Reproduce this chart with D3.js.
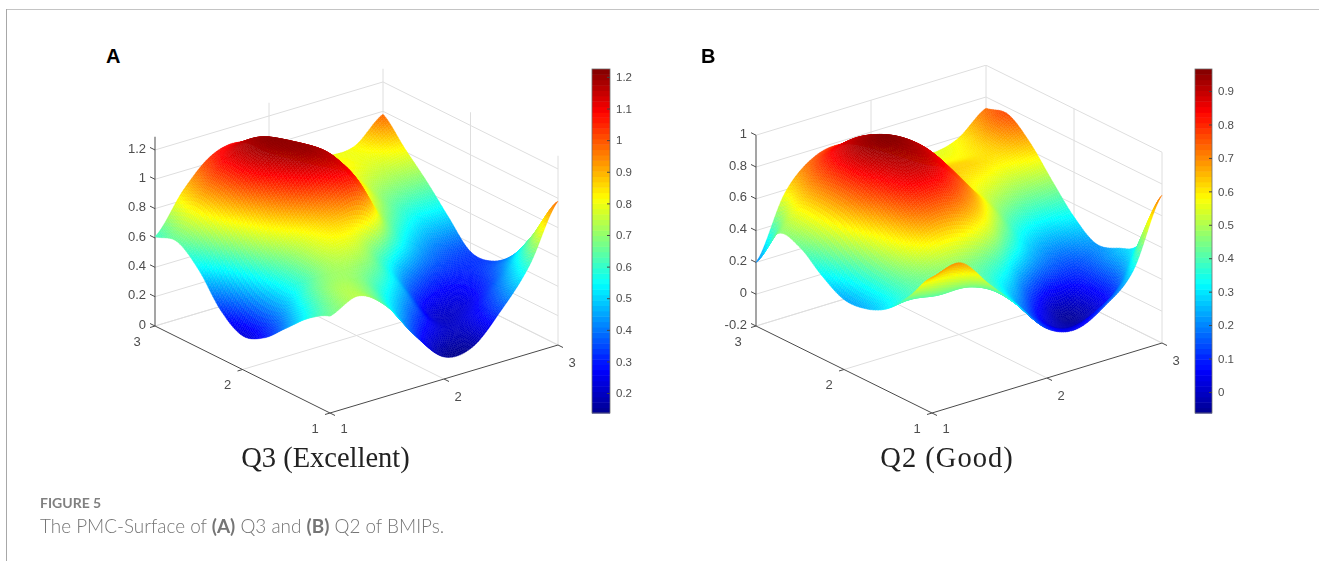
<!DOCTYPE html>
<html>
<head>
<meta charset="utf-8">
<script src="https://cdn.jsdelivr.net/npm/d3@7"></script>
<style>
  html, body { margin: 0; padding: 0; background: #fff; }
  svg { display: block; }
  text { font-family: "Liberation Sans", Arial, sans-serif; }
</style>
</head>
<body>
<svg id="chart" width="1319" height="561">
  <defs><filter id="soft" x="0" y="0" width="100%" height="100%"><feGaussianBlur stdDeviation="0.4"/></filter></defs>
</svg>
<script>
// surface heights, rows are y = 1..3, columns x = 1..3 (step 0.25)
const gridSteps = [1, 1.25, 1.5, 1.75, 2, 2.25, 2.5, 2.75, 3];
const q3Surface = [
  [0.66, 0.74, 0.61, 0.35, 0.15, 0.16, 0.35, 0.60, 0.98],
  [0.57, 0.72, 0.68, 0.50, 0.30, 0.20, 0.28, 0.46, 0.70],
  [0.43, 0.65, 0.72, 0.66, 0.48, 0.24, 0.22, 0.32, 0.47],
  [0.29, 0.55, 0.75, 0.80, 0.65, 0.42, 0.30, 0.30, 0.35],
  [0.23, 0.58, 0.80, 0.96, 1.03, 0.70, 0.48, 0.37, 0.34],
  [0.33, 0.70, 0.98, 1.16, 1.14, 0.85, 0.65, 0.52, 0.50],
  [0.53, 0.85, 1.12, 1.21, 1.14, 0.95, 0.75, 0.68, 0.67],
  [0.65, 0.92, 1.13, 1.19, 1.06, 0.88, 0.82, 0.78, 0.82],
  [0.61, 0.87, 1.05, 1.08, 0.95, 0.85, 0.81, 0.82, 0.98]
];
const q2Surface = [
  [0.65, 0.69, 0.50, 0.31, 0.11, 0.05, 0.14, 0.31, 0.73],
  [0.47, 0.42, 0.42, 0.36, 0.17, 0.00, -0.02, 0.10, 0.36],
  [0.32, 0.42, 0.48, 0.45, 0.34, 0.12, -0.03, 0.08, 0.26],
  [0.25, 0.48, 0.68, 0.70, 0.60, 0.38, 0.20, 0.14, 0.22],
  [0.24, 0.55, 0.80, 0.86, 0.76, 0.56, 0.36, 0.28, 0.32],
  [0.32, 0.65, 0.86, 0.93, 0.85, 0.62, 0.52, 0.46, 0.48],
  [0.43, 0.68, 0.90, 0.96, 0.87, 0.66, 0.62, 0.60, 0.65],
  [0.45, 0.66, 0.85, 0.90, 0.80, 0.62, 0.58, 0.62, 0.76],
  [0.20, 0.58, 0.75, 0.78, 0.70, 0.60, 0.55, 0.59, 0.73]
];
const xyTicks = [1, 2, 3];
const q3ZTicks = [0, 0.2, 0.4, 0.6, 0.8, 1, 1.2];
const q2ZTicks = [-0.2, 0, 0.2, 0.4, 0.6, 0.8, 1];
const q3BarTicks = [0.2, 0.3, 0.4, 0.5, 0.6, 0.7, 0.8, 0.9, 1, 1.1, 1.2];
const q2BarTicks = [0, 0.1, 0.2, 0.3, 0.4, 0.5, 0.6, 0.7, 0.8, 0.9];
const jetStops = [0, 1/8, 3/8, 5/8, 7/8, 1];
const jetColors = ["#00008f", "#0000ff", "#00ffff", "#ffff00", "#ff0000", "#800000"];

const svg = d3.select('#chart');

// page frame
svg.append('line').attr('x1', 7).attr('y1', 9.5).attr('x2', 1319).attr('y2', 9.5).attr('stroke', '#c4c4c4');
svg.append('line').attr('x1', 6.5).attr('y1', 9).attr('x2', 6.5).attr('y2', 561).attr('stroke', '#a8a8a8');

// Catmull-Rom so the drawn mesh is smooth between the read values
function cr(p0, p1, p2, p3, t) {
    return 0.5 * (2 * p1 + (p2 - p0) * t + (2 * p0 - 5 * p1 + 4 * p2 - p3) * t * t + (3 * p1 - p0 - 3 * p2 + p3) * t * t * t);
}

function sampleSurface(rows, sub) {
    const n = rows.length;
    const at = (r, c) => rows[Math.max(0, Math.min(n - 1, r))][Math.max(0, Math.min(n - 1, c))];
    const m = (n - 1) * sub + 1;
    const out = [];
    for (let i = 0; i < m; i++) {
        const r = Math.min(Math.floor(i / sub), n - 2), tr = i / sub - r;
        const line = [];
        for (let j = 0; j < m; j++) {
            const c = Math.min(Math.floor(j / sub), n - 2), tc = j / sub - c;
            const col = [-1, 0, 1, 2].map(k => cr(at(r + k, c - 1), at(r + k, c), at(r + k, c + 1), at(r + k, c + 2), tc));
            line.push(cr(col[0], col[1], col[2], col[3], tr));
        }
        out.push(line);
    }
    return out;
}

const fmt = v => d3.format('~g')(v).replace('\u2212', '-');

function drawPanel(cfg) {
    const g = svg.append('g').attr('filter', 'url(#soft)');
    const { front, left, right, zPx, zFloor, zTop } = cfg;

    const xPx = d3.scaleLinear().domain([1, 3]).range([0, right[0] - front[0]]);
    const yPx = d3.scaleLinear().domain([1, 3]).range([0, left[0] - front[0]]);
    const xPy = d3.scaleLinear().domain([1, 3]).range([0, right[1] - front[1]]);
    const yPy = d3.scaleLinear().domain([1, 3]).range([0, left[1] - front[1]]);
    const zPy = d3.scaleLinear().domain([zFloor, zFloor + 1]).range([0, -zPx]);
    const project = (x, y, z) => [front[0] + xPx(x) + yPx(y), front[1] + xPy(x) + yPy(y) + zPy(z)];

    const color = d3.scaleLinear().domain(jetStops.map(t => cfg.cMin + t * (cfg.cMax - cfg.cMin))).range(jetColors).clamp(true);

    const seg = (a, b, stroke, w) => g.append('line')
        .attr('x1', a[0]).attr('y1', a[1]).attr('x2', b[0]).attr('y2', b[1])
        .attr('stroke', stroke).attr('stroke-width', w);

    // back walls and floor grid
    const gridCol = '#dedede';
    cfg.zTicks.forEach(z => {
        seg(project(1, 3, z), project(3, 3, z), gridCol, 1);
        seg(project(3, 3, z), project(3, 1, z), gridCol, 1);
    });
    [2, 3].forEach(v => {
        seg(project(v, 3, zFloor), project(v, 3, zTop), gridCol, 1);
        seg(project(3, v - 1, zFloor), project(3, v - 1, zTop), gridCol, 1);
    });
    seg(project(2, 1, zFloor), project(2, 3, zFloor), gridCol, 1);
    seg(project(1, 2, zFloor), project(3, 2, zFloor), gridCol, 1);
    seg(project(1, 3, zFloor), project(3, 3, zFloor), gridCol, 1);
    seg(project(3, 1, zFloor), project(3, 3, zFloor), gridCol, 1);

    // axes
    const axisCol = '#4a4a4a';
    seg(project(1, 3, zFloor), project(1, 3, zTop), axisCol, 1);
    seg(project(1, 3, zFloor), project(1, 1, zFloor), axisCol, 1);
    seg(project(1, 1, zFloor), project(3, 1, zFloor), axisCol, 1);

    const tickCol = '#4d4d4d';
    const label = (x, y, txt, anchor) => g.append('text')
        .attr('x', x).attr('y', y).attr('text-anchor', anchor || 'middle').attr('dy', '0.36em')
        .attr('font-size', 13).attr('fill', tickCol).text(txt);

    cfg.zTicks.forEach(z => {
        const p = project(1, 3, z);
        seg(p, [p[0] - 5, p[1] - 2.5], axisCol, 1);
        label(p[0] - 9, p[1] - 2, fmt(z), 'end');
    });
    xyTicks.forEach(v => {
        const py = project(1, v, zFloor);
        seg(py, [py[0] - 5, py[1] + 1.5], axisCol, 1);
        label(py[0] - 15 - (v === 3 ? 3 : 0), py[1] + 15, v);
        const px = project(v, 1, zFloor);
        seg(px, [px[0] + 5, px[1] + 2.5], axisCol, 1);
        label(px[0] + 14, px[1] + (v === 1 ? 15 : 17), v);
    });

    // surface, painted from the far corner (3,3) to the near corner (1,1)
    const sub = 14;
    const mesh = sampleSurface(cfg.values, sub);
    const step = 2 / (mesh.length - 1);
    const quads = [];
    for (let i = mesh.length - 2; i >= 0; i--) {
        for (let j = mesh.length - 2; j >= 0; j--) {
            const y0 = 1 + i * step, y1 = y0 + step, x0 = 1 + j * step, x1 = x0 + step;
            quads.push({
                pts: [project(x0, y0, mesh[i][j]), project(x1, y0, mesh[i][j + 1]), project(x1, y1, mesh[i + 1][j + 1]), project(x0, y1, mesh[i + 1][j])],
                z: (mesh[i][j] + mesh[i][j + 1] + mesh[i + 1][j + 1] + mesh[i + 1][j]) / 4
            });
        }
    }
    g.append('g').selectAll('polygon').data(quads).enter().append('polygon')
        .attr('points', d => d.pts.map(p => p[0].toFixed(2) + ',' + p[1].toFixed(2)).join(' '))
        .attr('fill', d => color(d.z))
        .attr('stroke', d => color(d.z))
        .attr('stroke-width', 0.4);

    // colour bar
    const barY = d3.scaleLinear().domain([cfg.cMin, cfg.cMax]).range([cfg.barBottom, cfg.barTop]);
    const bands = d3.range(64);
    g.append('g').selectAll('rect').data(bands).enter().append('rect')
        .attr('x', cfg.barX)
        .attr('width', cfg.barW)
        .attr('y', i => barY(cfg.cMin + (i + 1) / 64 * (cfg.cMax - cfg.cMin)))
        .attr('height', i => barY(cfg.cMin + i / 64 * (cfg.cMax - cfg.cMin)) - barY(cfg.cMin + (i + 1) / 64 * (cfg.cMax - cfg.cMin)) + 0.5)
        .attr('fill', i => color(cfg.cMin + (i + 0.5) / 64 * (cfg.cMax - cfg.cMin)));
    g.append('rect').attr('x', cfg.barX).attr('y', cfg.barTop).attr('width', cfg.barW).attr('height', cfg.barBottom - cfg.barTop)
        .attr('fill', 'none').attr('stroke', '#6e6e6e').attr('stroke-width', 0.8);
    const barAxis = g.append('g').attr('transform', `translate(${cfg.barX + cfg.barW},0)`)
        .call(d3.axisRight(barY).tickValues(cfg.barTicks).tickFormat(fmt).tickSize(-3).tickPadding(6));
    barAxis.select('.domain').remove();
    barAxis.selectAll('line').attr('stroke', '#444');
    barAxis.selectAll('text').attr('font-size', 11.5).attr('fill', tickCol).attr('font-family', '"Liberation Sans", Arial, sans-serif');

    // panel title
    g.append('text').attr('x', cfg.titleX).attr('y', 467).attr('text-anchor', 'middle')
        .style('font-family', '"Liberation Serif", serif').style('letter-spacing', cfg.titleSpacing + 'px')
        .attr('font-size', 28.5).attr('fill', '#222').text(cfg.title);

    svg.append('text').attr('x', cfg.letterX).attr('y', 63).attr('font-size', 20).attr('font-weight', 700).attr('fill', '#000').text(cfg.letter);
}

drawPanel({
    values: q3Surface, front: [330, 413], left: [155, 326], right: [558, 345],
    zPx: 146.7, zFloor: 0, zTop: 1.29, zTicks: q3ZTicks, cMin: 0.137, cMax: 1.225,
    barX: 592, barW: 18, barTop: 69, barBottom: 413, barTicks: q3BarTicks,
    letter: 'A', letterX: 106, title: 'Q3 (Excellent)', titleX: 325.5, titleSpacing: 0
});
drawPanel({
    values: q2Surface, front: [932, 413], left: [756, 326], right: [1162, 343],
    zPx: 159, zFloor: -0.2, zTop: 1, zTicks: q2ZTicks, cMin: -0.063, cMax: 0.966,
    barX: 1195, barW: 17, barTop: 69, barBottom: 413, barTicks: q2BarTicks,
    letter: 'B', letterX: 701, title: 'Q2 (Good)', titleX: 947, titleSpacing: 1
});

// caption
svg.append('text').attr('x', 40).attr('y', 508).attr('font-size', 14).attr('font-weight', 700)
    .style('font-family', 'Lato, sans-serif').attr('fill', '#808080').text('FIGURE 5');
const cap = svg.append('text').attr('x', 40).attr('y', 533).attr('font-size', 18.9)
    .style('font-family', 'Lato, sans-serif').attr('fill', '#757575');
[['The PMC-Surface of ', 300], ['(A)', 700], [' Q3 and ', 300], ['(B)', 700], [' Q2 of BMIPs.', 300]].forEach(p => {
    cap.append('tspan').attr('font-weight', p[1]).text(p[0]);
});
</script>
</body>
</html>
